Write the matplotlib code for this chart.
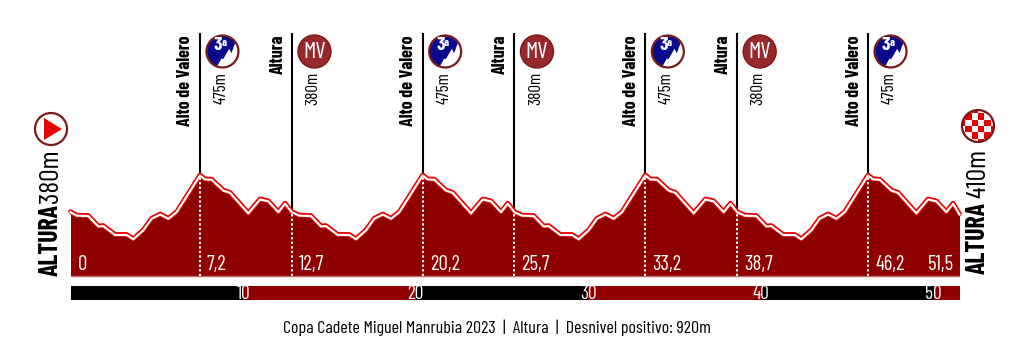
import matplotlib
matplotlib.use('Agg')
import matplotlib.pyplot as plt
import matplotlib.transforms as mtransforms
from matplotlib.patches import Circle, Polygon, Rectangle

plt.rcParams['font.family'] = ['Barlow Condensed', 'Liberation Sans', 'DejaVu Sans']

km = [0, 0.36, 1.03, 1.61, 1.90, 2.58, 3.25, 3.64, 4.22, 4.70, 5.19, 5.67, 6.15, 7.50, 7.79, 8.18, 8.85, 9.24,
      10.30, 10.98, 11.46, 12.04, 12.43, 12.82,
      13.26, 13.93, 14.51, 14.80, 15.48, 16.15, 16.54, 17.12, 17.60, 18.09, 18.57, 19.05, 20.40, 20.69, 21.08,
      21.75, 22.14, 23.20, 23.88, 24.36, 24.94, 25.33, 25.72,
      26.16, 26.83, 27.41, 27.70, 28.38, 29.05, 29.44, 30.02, 30.50, 30.99, 31.47, 31.95, 33.30, 33.59, 33.98,
      34.65, 35.04, 36.10, 36.78, 37.26, 37.84, 38.23, 38.62,
      39.06, 39.73, 40.31, 40.60, 41.28, 41.95, 42.34, 42.92, 43.40, 43.89, 44.37, 44.85, 46.20, 46.49, 46.88,
      47.55, 47.94, 49.00, 49.68, 50.16, 50.74, 51.13, 51.50]
alt = [380, 371, 370, 343, 344, 321, 321, 310, 333, 363, 374, 363, 380, 475, 465, 464, 436, 430,
       377, 413, 408, 380, 402, 380,
       371, 370, 343, 344, 321, 321, 310, 333, 363, 374, 363, 380, 475, 465, 464,
       436, 430, 377, 413, 408, 380, 402, 380,
       371, 370, 343, 344, 321, 321, 310, 333, 363, 374, 363, 380, 475, 465, 464,
       436, 430, 377, 413, 408, 380, 402, 380,
       371, 370, 343, 344, 321, 321, 310, 333, 363, 374, 363, 380, 475, 465, 464,
       436, 430, 377, 413, 408, 380, 402, 374]

pass_km = [7.50, 12.83, 20.40, 25.72, 33.30, 38.62, 46.20]
pass_alt = [475, 380, 475, 380, 475, 380, 475]
pass_names = ['Alto de Valero', 'Altura', 'Alto de Valero', 'Altura', 'Alto de Valero', 'Altura', 'Alto de Valero']
pass_heights = ['475m', '380m', '475m', '380m', '475m', '380m', '475m']
pass_cats = ['3a', 'MV', '3a', 'MV', '3a', 'MV', '3a']
km_labels = ['7,2', '12,7', '20,2', '25,7', '33,2', '38,7', '46,2']
ruler_ticks = [10, 20, 30, 40, 50]

DARK = '#8f0000'
RED = '#e60000'
W, H = 1023, 364

fig = plt.figure(figsize=(W / 100, H / 100), dpi=100)

# overlay in pixel coords for the icons and side labels
over = fig.add_axes([0, 0, 1, 1], zorder=3)
over.set_xlim(0, W)
over.set_ylim(H, 0)
over.axis('off')

# profile: km on x, metres on y
ax = fig.add_axes([70.5 / W, 1 - 276 / H, 889 / W, 242 / H])
ax.set_xlim(0, 51.5)
ax.set_ylim(213.4, 840)
ax.axis('off')

ax.fill_between(km, alt, 213.4, color=DARK, lw=0)
ax.plot(km, alt, color=RED, lw=3.4, solid_joinstyle='round', solid_capstyle='round', clip_on=False)
shift = mtransforms.offset_copy(ax.transData, fig, y=-0.4, units='points')
ax.plot(km, alt, color='white', lw=1.6, transform=shift, solid_joinstyle='round', clip_on=False)
ax.plot([0, 51.5], [213.6, 213.6], color='#c46a6a', lw=1, clip_on=False)

for k, a in zip(pass_km, pass_alt):
    ax.plot([k, k], [a + 2, 840], color='black', lw=1.5, clip_on=False, zorder=1)
    ax.plot([k, k], [213.4, a - 5], color='white', lw=1.5, ls=(0, (1.1, 1.1)), zorder=4)

# distance labels inside the profile
lab_off = mtransforms.offset_copy(ax.transData, fig, x=7 * 0.72, y=2 * 0.72, units='points')
ax.text(0, 213.4, '0', color='white', fontsize=15, ha='left', va='bottom', transform=lab_off)
for k, lab in zip(pass_km, km_labels):
    ax.text(k, 213.4, lab, color='white', fontsize=15, ha='left', va='bottom', transform=lab_off)
ax.text(51.2, 213.4 + 5, '51,5', color='white', fontsize=15, ha='right', va='bottom')

# km ruler
bar = fig.add_axes([70.5 / W, 1 - 300 / H, 889 / W, 14 / H])
bar.set_xlim(0, 51.5)
bar.set_ylim(0, 1)
bar.axis('off')
edges = [0] + ruler_ticks + [51.5]
for i in range(len(edges) - 1):
    c = 'black' if i % 2 == 0 else DARK
    bar.barh(0.5, edges[i + 1] - edges[i], left=edges[i], height=1, color=c, lw=0)
for t in ruler_ticks:
    bar.text(t, 0.45, str(t), color='white', fontsize=14, ha='center', va='center')

# pass names, heights and category badges
for k, name, h, cat in zip(pass_km, pass_names, pass_heights, pass_cats):
    px = 70.5 + k * 889 / 51.5
    over.text(px - 14, 35, name, rotation=90, fontsize=13, fontweight='bold', ha='center', va='top')
    over.text(px + 21, 72, h, rotation=90, fontsize=12.5, ha='center', va='top')
    cx, cy = px + 22.5, 51.5
    if cat == 'MV':
        over.add_patch(Circle((cx, cy), 16.5, fc='#97292b', ec='#7a1a1c', lw=1))
        over.text(cx, cy + 0.5, 'MV', color='white', fontsize=17, ha='center', va='center')
    else:
        c = Circle((cx, cy), 15.5, fc='#0a0a8c', ec='none')
        over.add_patch(c)
        peak = Polygon([(cx - 6.5, cy + 17), (cx - 1, cy + 7), (cx + 0.7, cy + 7.7), (cx + 6.7, cy - 2.7),
                        (cx + 9, cy + 1.7), (cx + 14, cy - 12), (cx + 20, cy + 17)], fc='white', ec='none')
        over.add_patch(peak)
        peak.set_clip_path(c)
        over.add_patch(Circle((cx, cy), 16, fc='none', ec='#7a1a1c', lw=1.6))
        over.text(cx - 4.5, cy - 6, '3', color='white', fontsize=14, fontweight='bold', ha='center', va='center')
        over.text(cx + 1.5, cy - 8, 'a', color='white', fontsize=8, fontweight='bold', ha='center', va='center')

# start side
over.add_patch(Circle((51, 129), 16, fc='white', ec='#7a1a1c', lw=1.6))
over.add_patch(Polygon([(44, 118), (44, 140), (62, 129)], fc=RED, ec='none'))
over.text(51, 276, 'ALTURA', rotation=90, fontsize=18.5, fontweight='bold', ha='center', va='bottom')
over.text(51, 203, '380m', rotation=90, fontsize=20, ha='center', va='bottom')

# finish side
fin = Circle((978, 126), 16, fc='white', ec='none')
over.add_patch(fin)
for col in range(-3, 3):
    for row in range(-3, 3):
        if (col + row) % 2 == 0:
            sq = Rectangle((978 + col * 6.3, 126 + row * 6.3), 6.3, 6.3, fc=RED, ec='none')
            over.add_patch(sq)
            sq.set_clip_path(fin)
over.add_patch(Circle((978, 126), 16, fc='none', ec='#7a1a1c', lw=1.6))
over.text(978, 274, 'ALTURA', rotation=90, fontsize=18.5, fontweight='bold', ha='center', va='bottom')
over.text(978, 198, '410m', rotation=90, fontsize=20, ha='center', va='bottom')

over.text(496.5, 328, 'Copa Cadete Miguel Manrubia 2023  |  Altura  |  Desnivel positivo: 920m',
          fontsize=13, ha='center', va='center')

fig.savefig('out.png', dpi=100)
